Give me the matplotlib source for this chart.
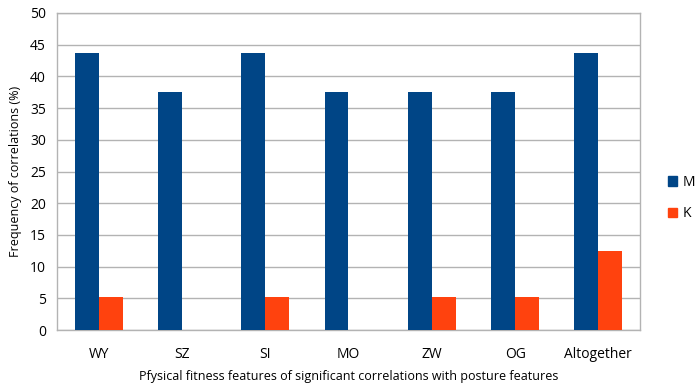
import matplotlib
matplotlib.use("Agg")
import matplotlib.pyplot as plt
import numpy as np
from matplotlib.patches import Patch

categories = ["WY", "SZ", "SI", "MO", "ZW", "OG", "Altogether"]
m_values = [43.75, 37.5, 43.75, 37.5, 37.5, 37.5, 43.75]
k_values = [5.26, 0, 5.26, 0, 5.26, 5.26, 12.5]
yticks = [0, 5, 10, 15, 20, 25, 30, 35, 40, 45, 50]

plt.rcParams['font.family'] = ['Open Sans', 'DejaVu Sans']

fig = plt.figure(figsize=(6.98, 3.88), dpi=100)
ax = fig.add_axes([57/698, 1-330/388, (640-57)/698, (330-13)/388])

x = np.arange(len(categories))
w = 0.288
ax.bar(x - w/2, m_values, width=w, color="#004586", zorder=3)
ax.bar(x + w/2, k_values, width=w, color="#ff420e", zorder=3)

ax.set_xlim(-0.5, len(categories) - 0.5)
ax.set_ylim(0, 50)
ax.set_yticks(yticks)
ax.set_xticks(x)
ax.set_xticklabels(categories)
ax.tick_params(axis='both', length=0, labelsize=10, colors="#000000")
ax.tick_params(axis='x', pad=12)
ax.tick_params(axis='y', pad=8)
ax.grid(axis='y', color="#b3b3b3", linewidth=1, zorder=0)
for s in ax.spines.values():
    s.set_color("#b3b3b3")
    s.set_linewidth(1)

ax.set_xlabel("Pfysical fitness features of significant correlations with posture features", fontsize=9, labelpad=6)
ax.set_ylabel("Frequency of correlations (%)", fontsize=9, labelpad=6)

handles = [Patch(color="#004586", label="M"), Patch(color="#ff420e", label="K")]
fig.legend(handles=handles, loc='center left', bbox_to_anchor=(655/698, 1-198/388),
           frameon=False, fontsize=10, handlelength=0.7, handleheight=0.7,
           labelspacing=1.2, handletextpad=0.4)

fig.savefig("out.png", dpi=100)
